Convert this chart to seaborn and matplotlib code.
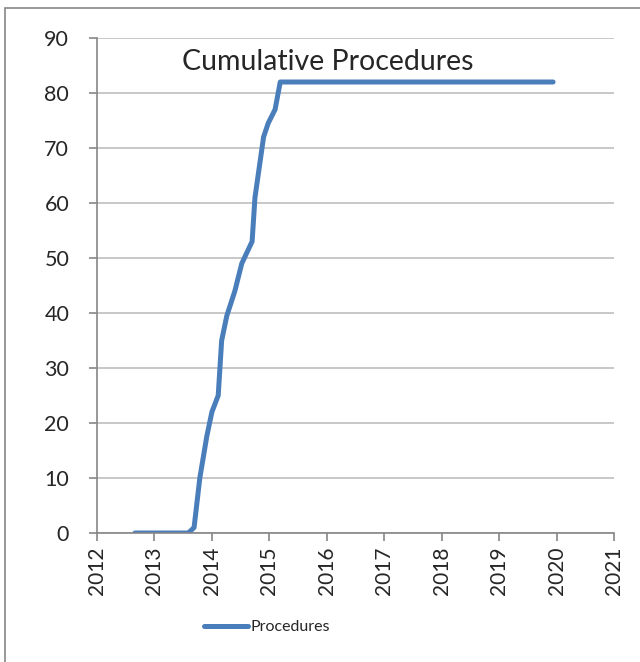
import matplotlib
matplotlib.use("Agg")
import matplotlib.pyplot as plt
import pandas as pd
import seaborn as sns
from matplotlib.patches import Rectangle

# cumulative procedures over time (decimal year)
years = [2012.66, 2013.59, 2013.69, 2013.79, 2013.91, 2014.00, 2014.11, 2014.17,
         2014.26, 2014.40, 2014.52, 2014.70, 2014.75, 2014.90, 2014.98, 2015.10,
         2015.19, 2019.94]
procedures = [0, 0, 1, 10, 17.5, 22, 25, 35, 39.5, 44, 49, 53, 61, 72, 74.5, 77,
              82, 82]
x_ticks = list(range(2012, 2022))
y_ticks = list(range(0, 100, 10))

df = pd.DataFrame({"year": years, "Procedures": procedures})

sns.set_style("white")
plt.rcParams["font.family"] = ["Lato", "DejaVu Sans"]

fig = plt.figure(figsize=(6.4, 6.62), dpi=100)
ax = fig.add_axes([97 / 640, 1 - 533 / 662, (614 - 97) / 640, (533 - 38) / 662])

sns.lineplot(data=df, x="year", y="Procedures", ax=ax, color="#4a7ebb",
             linewidth=3.6, label="Procedures", sort=False)

ax.set_xlim(2012, 2021)
ax.set_ylim(0, 90)
ax.set_xticks(x_ticks)
ax.set_yticks(y_ticks)
ax.set_xticklabels([str(t) for t in x_ticks], rotation=90, fontsize=15)
ax.set_yticklabels([str(t) for t in y_ticks], fontsize=15.5)
ax.set_xlabel("")
ax.set_ylabel("")

ax.grid(axis="y", color="#bfbfbf", linewidth=1.2)
ax.set_axisbelow(True)
for side in ["top", "right"]:
    ax.spines[side].set_visible(False)
for side in ["left", "bottom"]:
    ax.spines[side].set_color("#868686")
    ax.spines[side].set_linewidth(1.2)
ax.tick_params(axis="both", which="both", direction="out", length=6,
               color="#868686", width=1.2, left=True, bottom=True)
ax.tick_params(axis="y", pad=14)
ax.tick_params(axis="x", pad=4)

ax.text(2013.48, 85.6, "Cumulative Procedures", fontsize=20.5, ha="left", va="center")

ax.legend(loc="center", bbox_to_anchor=(267 / 640, 1 - 627 / 662),
          bbox_transform=fig.transFigure, frameon=False, fontsize=11.5,
          handlelength=2.75, handletextpad=0.15)

fig.patches.append(Rectangle((5 / 640, -0.1), 1.2, 1 - 8 / 662 + 0.1,
                             transform=fig.transFigure, fill=False,
                             edgecolor="#868686", linewidth=1.2))

fig.savefig("out.png", dpi=100)
